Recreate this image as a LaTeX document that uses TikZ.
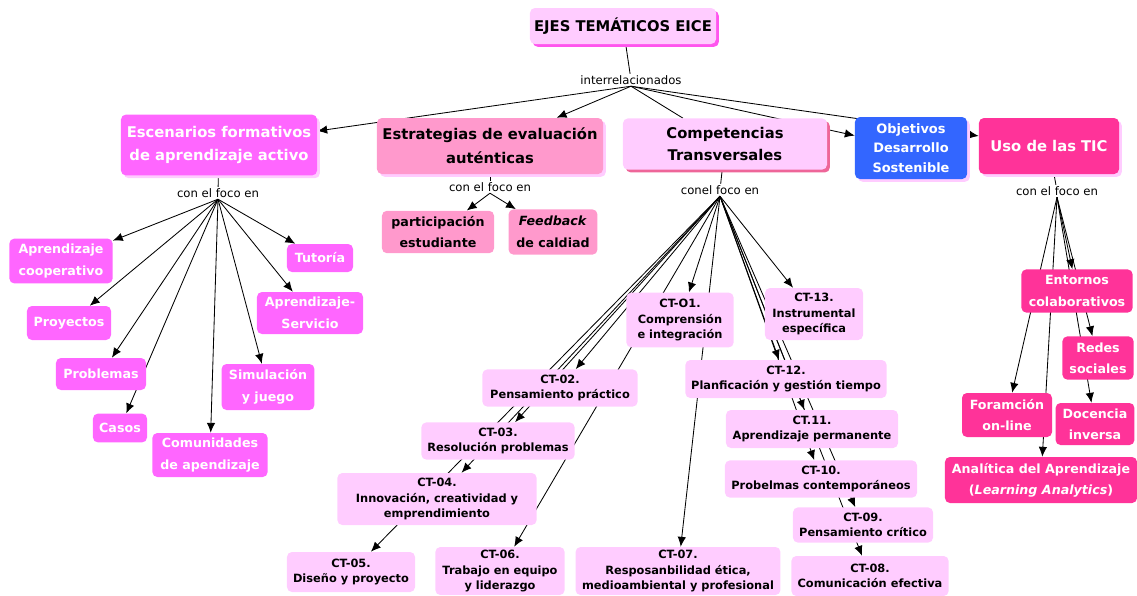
\documentclass[tikz,border=0pt]{standalone}
\usepackage{fontspec}
\setmainfont{DejaVu Sans}
\usetikzlibrary{arrows.meta,shadows}
\pgfdeclarelayer{fondo}
\pgfsetlayers{fondo,main}
\definecolor{rosaEsc}{HTML}{FF66FF}
\definecolor{rosaEstr}{HTML}{FF99CC}
\definecolor{rosaComp}{HTML}{FFCCFF}
\definecolor{azulObj}{HTML}{3366FF}
\definecolor{rosaTic}{HTML}{FF3399}
\definecolor{sombraTit}{HTML}{FF55EE}
\definecolor{sombraComp}{HTML}{EE6699}
\tikzstyle{Caja}=[rectangle, rounded corners=3.5pt, align=center, inner sep=2pt]
\tikzstyle{Eje}=[Caja, font=\fontsize{10.5}{17}\selectfont\bfseries]
\tikzstyle{Escenario}=[Caja, fill=rosaEsc, text=white, font=\fontsize{9}{15.5}\selectfont\bfseries]
\tikzstyle{Estrategia}=[Caja, fill=rosaEstr, font=\fontsize{9}{15.5}\selectfont\bfseries]
\tikzstyle{Comp}=[Caja, fill=rosaComp, font=\fontsize{8.1}{11}\selectfont\bfseries]
\tikzstyle{Tic}=[Caja, fill=rosaTic, text=white, font=\fontsize{9}{15}\selectfont\bfseries]
\tikzstyle{Enlace}=[inner sep=1pt, font=\fontsize{8.3}{10}\selectfont]
\tikzstyle{Flecha}=[line width=0.6pt, -{Latex[length=7pt,width=6pt]}]
\tikzstyle{Linea}=[line width=0.6pt]

\begin{document}
\begin{tikzpicture}[x=0.025cm, y=-0.025cm]
\useasboundingbox (0,0) rectangle (1137,595);

		% ejes
		\node [Eje, fill=rosaComp, minimum width=4.65cm, minimum height=0.9cm, drop shadow={shadow xshift=2pt, shadow yshift=-2pt, fill=sombraTit, opacity=1}] (titulo) at (623,26) {EJES TEMÁTICOS EICE};
		\node [Enlace] (inter) at (631,80) {interrelacionados};
		\node [Eje, fill=rosaEsc, text=white, minimum width=4.9cm, minimum height=1.52cm, drop shadow={shadow xshift=2pt, shadow yshift=-2pt, fill=rosaComp, opacity=1}] (esc) at (219,145) {Escenarios formativos\\de aprendizaje activo};
		\node [Eje, fill=rosaEstr, minimum width=5.65cm, minimum height=1.4cm, drop shadow={shadow xshift=2pt, shadow yshift=-2pt, fill=rosaComp, opacity=1}] (estr) at (490,146) {Estrategias de evaluación\\auténticas};
		\node [Eje, fill=rosaComp, minimum width=5.1cm, minimum height=1.28cm, font=\fontsize{10.5}{15.5}\selectfont\bfseries, drop shadow={shadow xshift=2pt, shadow yshift=-2pt, fill=sombraComp, opacity=1}] (comp) at (725,144) {Competencias\\Transversales};
		\node [Eje, fill=azulObj, text=white, minimum width=2.8cm, minimum height=1.55cm, font=\fontsize{9.2}{13.9}\selectfont\bfseries, drop shadow={shadow xshift=2pt, shadow yshift=-2pt, fill=rosaComp, opacity=1}] (obj) at (911,148) {Objetivos\\Desarrollo\\Sostenible};
		\node [Eje, fill=rosaTic, text=white, minimum width=3.5cm, minimum height=1.4cm, drop shadow={shadow xshift=2pt, shadow yshift=-2pt, fill=rosaComp, opacity=1}] (tic) at (1049,146) {Uso de las TIC};

		\node [Enlace] (foco1) at (218,193) {con el foco en};
		\node [Enlace] (foco2) at (490,187) {con el foco en};
		\node [Enlace] (foco3) at (720,190) {conel foco en};
		\node [Enlace] (foco4) at (1057,191) {con el foco en};

		% escenarios
		\node [Escenario, minimum width=2.58cm, minimum height=1.12cm] (coop) at (61,261) {Aprendizaje\\cooperativo};
		\node [Escenario, minimum width=2.1cm, minimum height=0.85cm] (proy) at (69,323) {Proyectos};
		\node [Escenario, minimum width=2.25cm, minimum height=0.8cm] (probl) at (101,374) {Problemas};
		\node [Escenario, minimum width=1.35cm, minimum height=0.72cm] (casos) at (120,428) {Casos};
		\node [Escenario, minimum width=2.88cm, minimum height=1.1cm] (comun) at (210,455) {Comunidades\\de apendizaje};
		\node [Escenario, minimum width=2.32cm, minimum height=1.15cm] (simul) at (268,387) {Simulación\\y juego};
		\node [Escenario, minimum width=2.65cm, minimum height=1.05cm] (apser) at (310,313) {Aprendizaje-\\Servicio};
		\node [Escenario, minimum width=1.65cm, minimum height=0.7cm] (tutor) at (320,258) {Tutoría};

		% estrategias
		\node [Estrategia, minimum width=2.8cm, minimum height=1.06cm] (part) at (438,232) {participación\\estudiante};
		\node [Estrategia, minimum width=2.22cm, minimum height=1.13cm] (feed) at (553,232) {\textit{Feedback}\\de caldiad};

		% competencias
		\node [Comp, minimum width=2.68cm, minimum height=1.37cm] (ct01) at (680,320) {CT-O1.\\Comprensión\\e integración};
		\node [Comp, minimum width=2.45cm, minimum height=1.3cm] (ct13) at (814,314) {CT-13.\\Instrumental\\específica};
		\node [Comp, minimum width=3.88cm, minimum height=0.93cm] (ct02) at (560,388) {CT-02.\\Pensamiento práctico};
		\node [Comp, minimum width=5.03cm, minimum height=0.95cm] (ct12) at (786,379) {CT-12.\\Planficación y gestión tiempo};
		\node [Comp, minimum width=3.83cm, minimum height=0.93cm] (ct03) at (498,441) {CT-03.\\Resolución problemas};
		\node [Comp, minimum width=4.3cm, minimum height=0.95cm] (ct11) at (812,429) {CT.11.\\Aprendizaje permanente};
		\node [Comp, minimum width=4.98cm, minimum height=1.3cm] (ct04) at (437,499) {CT-04.\\Innovación, creatividad y\\emprendimiento};
		\node [Comp, minimum width=4.8cm, minimum height=0.93cm] (ct10) at (821,479) {CT-10.\\Probelmas contemporáneos};
		\node [Comp, minimum width=3.5cm, minimum height=0.88cm] (ct09) at (863,525) {CT-09.\\Pensamiento crítico};
		\node [Comp, minimum width=3.2cm, minimum height=1cm] (ct05) at (351,572) {CT-05.\\Diseño y proyecto};
		\node [Comp, minimum width=3.23cm, minimum height=1.2cm] (ct06) at (500,571) {CT-06.\\Trabajo en equipo\\y liderazgo};
		\node [Comp, minimum width=5.12cm, minimum height=1.2cm] (ct07) at (678,571) {CT-07.\\Resposanbilidad ética,\\medioambiental y profesional};
		\node [Comp, minimum width=3.93cm, minimum height=1cm] (ct08) at (870,576) {CT-08.\\Comunicación efectiva};

		% TIC
		\node [Tic, minimum width=2.78cm, minimum height=1.08cm] (ento) at (1077,291) {Entornos\\colaborativos};
		\node [Tic, minimum width=1.78cm, minimum height=1.08cm] (redes) at (1098,358) {Redes\\sociales};
		\node [Tic, minimum width=2.25cm, minimum height=1.1cm] (forma) at (1007,415) {Foramción\\on-line};
		\node [Tic, minimum width=1.97cm, minimum height=1.05cm] (doce) at (1095,424) {Docencia\\inversa};
		\node [Tic, minimum width=4.8cm, minimum height=1.15cm] (anal) at (1041,480) {Analítica del Aprendizaje\\(\textit{Learning Analytics})};

		\begin{pgfonlayer}{fondo}
		\draw[Linea] (titulo) -- (inter);
		\draw[Flecha] (inter.south) -- (esc);
		\draw[Flecha] (inter.south) -- (estr);
		\draw[Linea] (inter.south) -- (comp);
		\draw[Flecha] (inter.south) -- (obj);
		\draw[Flecha] (inter.south) -- (tic);

		\draw[Linea] (esc) -- (foco1);
		\draw[Linea] (estr) -- (foco2);
		\draw[Linea] (comp) -- (foco3);
		\draw[Linea] (tic) -- (foco4);

		\draw[Flecha] (foco1.south) -- (coop);
		\draw[Flecha] (foco1.south) -- (proy);
		\draw[Flecha] (foco1.south) -- (probl);
		\draw[Flecha] (foco1.south) -- (casos);
		\draw[Flecha] (foco1.south) -- (comun);
		\draw[Flecha] (foco1.south) -- (simul);
		\draw[Flecha] (foco1.south) -- (apser);
		\draw[Flecha] (foco1.south) -- (tutor);

		\draw[Flecha] (foco2.south) -- (part);
		\draw[Flecha] (foco2.south) -- (feed);

		\draw[Flecha] (foco3.south) -- (ct01);
		\draw[Flecha] (foco3.south) -- (ct02);
		\draw[Flecha] (foco3.south) -- (ct03);
		\draw[Flecha] (foco3.south) -- (ct04);
		\draw[Flecha] (foco3.south) -- (ct05);
		\draw[Flecha] (foco3.south) -- (ct06);
		\draw[Flecha] (foco3.south) -- (ct07);
		\draw[Flecha] (foco3.south) -- (ct08);
		\draw[Flecha] (foco3.south) -- (ct09);
		\draw[Flecha] (foco3.south) -- (ct10);
		\draw[Flecha] (foco3.south) -- (ct11);
		\draw[Flecha] (foco3.south) -- (ct12);
		\draw[Flecha] (foco3.south) -- (ct13);

		\draw[Flecha] (foco4.south) -- (ento);
		\draw[Flecha] (foco4.south) -- (redes);
		\draw[Flecha] (foco4.south) -- (forma);
		\draw[Flecha] (foco4.south) -- (doce);
		\draw[Flecha] (foco4.south) -- (anal);
		\end{pgfonlayer}

\end{tikzpicture}
\end{document}
